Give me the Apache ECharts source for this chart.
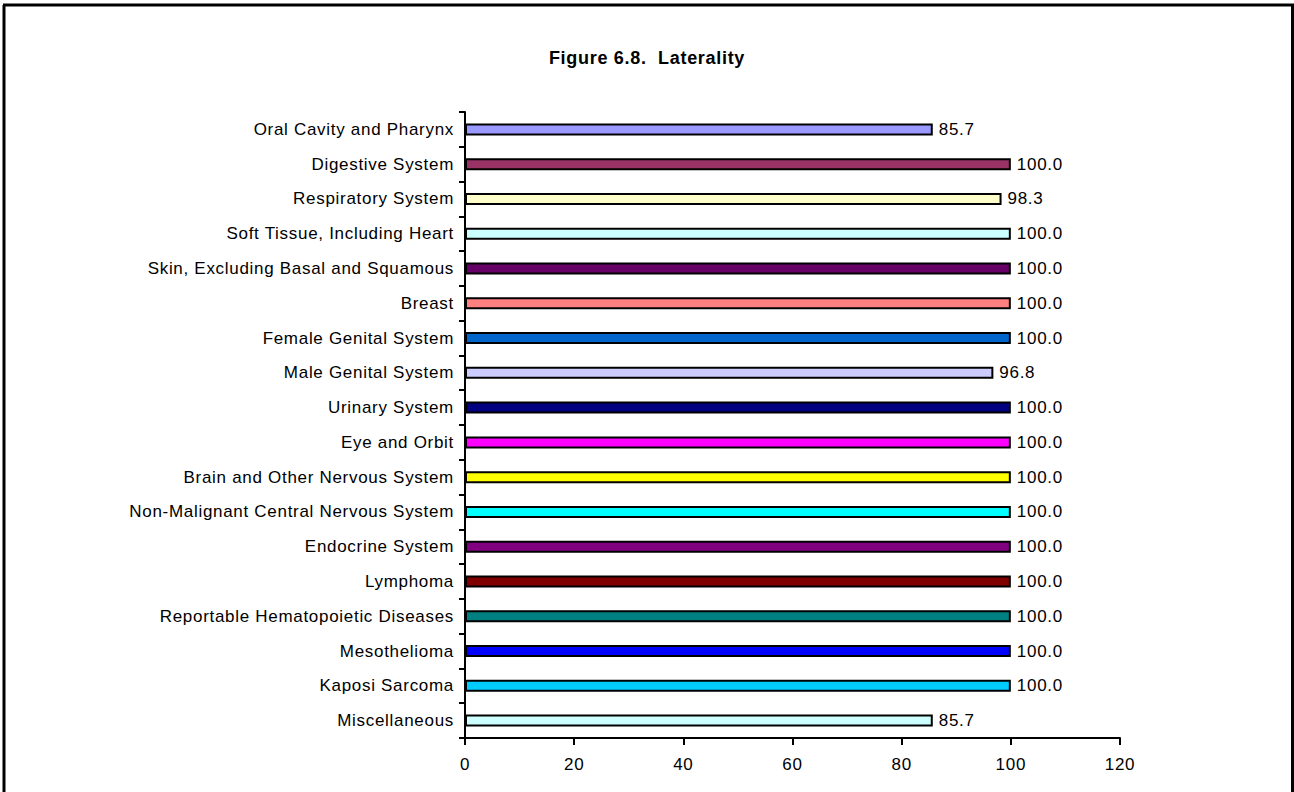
<!DOCTYPE html>
<html>
<head>
<meta charset="utf-8">
<script src="https://cdn.jsdelivr.net/npm/echarts@6/dist/echarts.min.js"></script>
<style>
  html, body { margin: 0; padding: 0; background: #fff; }
  #chart { width: 1294px; height: 792px; }
  #chart text { letter-spacing: 0.7px; }
</style>
</head>
<body>
<div id="chart"></div>
<script>
// Sites, top to bottom
const categories = [
  'Oral Cavity and Pharynx',
  'Digestive System',
  'Respiratory System',
  'Soft Tissue, Including Heart',
  'Skin, Excluding Basal and Squamous',
  'Breast',
  'Female Genital System',
  'Male Genital System',
  'Urinary System',
  'Eye and Orbit',
  'Brain and Other Nervous System',
  'Non-Malignant Central Nervous System',
  'Endocrine System',
  'Lymphoma',
  'Reportable Hematopoietic Diseases',
  'Mesothelioma',
  'Kaposi Sarcoma',
  'Miscellaneous'
];

// Percent of cases with laterality coded
const values = [85.7, 100.0, 98.3, 100.0, 100.0, 100.0, 100.0, 96.8, 100.0,
                100.0, 100.0, 100.0, 100.0, 100.0, 100.0, 100.0, 100.0, 85.7];

// Fill colour of each bar
const barColors = [
  '#9999FF', '#993366', '#FFFFCC', '#CCFFFF', '#660066', '#FF8080',
  '#0066CC', '#CCCCFF', '#000080', '#FF00FF', '#FFFF00', '#00FFFF',
  '#800080', '#800000', '#008080', '#0000FF', '#00CCFF', '#CCFFFF'
];

// Value axis ticks
const xTicks = [0, 20, 40, 60, 80, 100, 120];

const FONT = '"Liberation Sans", Arial, sans-serif';

const chart = echarts.init(document.getElementById('chart'), null, { renderer: 'svg' });

chart.setOption({
  animation: false,
  backgroundColor: '#ffffff',
  title: {
    text: 'Figure 6.8.  Laterality',
    left: 'center',
    top: 44,
    textStyle: { fontFamily: FONT, fontSize: 18, fontWeight: 'bold', color: '#000' }
  },
  graphic: [
    { type: 'line', shape: { x1: 4, y1: 5, x2: 4, y2: 792 }, style: { stroke: '#000', lineWidth: 3 } },
    { type: 'line', shape: { x1: 3, y1: 5, x2: 1294, y2: 5 }, style: { stroke: '#000', lineWidth: 3 } },
    { type: 'line', shape: { x1: 1292.5, y1: 5, x2: 1292.5, y2: 792 }, style: { stroke: '#000', lineWidth: 3 } }
  ],
  grid: { left: 465, right: 174, top: 112, bottom: 54, containLabel: false },
  xAxis: {
    type: 'value',
    min: xTicks[0],
    max: xTicks[xTicks.length - 1],
    interval: xTicks[1] - xTicks[0],
    axisLine: { show: true, lineStyle: { color: '#000', width: 2 } },
    axisTick: { show: true, length: 7, lineStyle: { color: '#000', width: 2 } },
    axisLabel: { fontFamily: FONT, fontSize: 17, color: '#000', margin: 18 },
    splitLine: { show: false }
  },
  yAxis: {
    type: 'category',
    data: categories,
    inverse: true,
    axisLine: { show: true, lineStyle: { color: '#000', width: 2 } },
    axisTick: { show: true, length: 6, lineStyle: { color: '#000', width: 2 } },
    axisLabel: { fontFamily: FONT, fontSize: 17, color: '#000', margin: 11 },
    splitLine: { show: false }
  },
  series: [{
    type: 'bar',
    data: values.map((v, i) => ({
      value: v,
      itemStyle: { color: barColors[i] }
    })),
    barWidth: 12,
    itemStyle: { borderColor: '#000', borderWidth: 2 },
    label: {
      show: true,
      position: 'right',
      distance: 6,
      fontFamily: FONT,
      fontSize: 17,
      color: '#000',
      formatter: p => p.value.toFixed(1)
    }
  }]
});
</script>
</body>
</html>
